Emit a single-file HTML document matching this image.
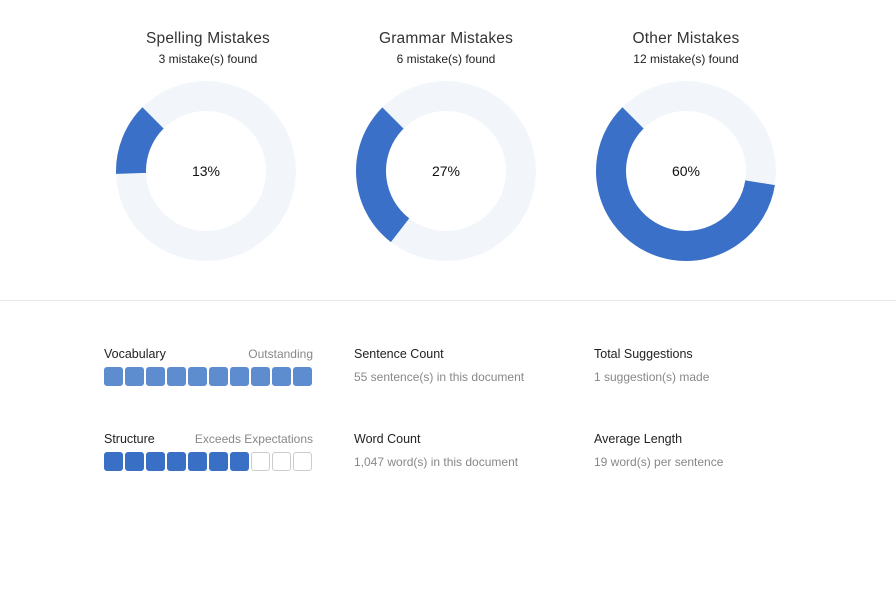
<!DOCTYPE html>
<html><head><meta charset="utf-8"><style>
body{margin:0;width:896px;height:606px;background:#fff;font-family:"Liberation Sans",sans-serif;position:relative;overflow:hidden}
.t{position:absolute;width:240px;text-align:center;color:#333}
.h{font-size:15.5px;top:30px;letter-spacing:0.2px}
.s{font-size:12px;top:52px;color:#222}
.lab{position:absolute;font-size:12.5px;color:#222}
.sub{position:absolute;font-size:12px;color:#888}
.boxes{position:absolute;left:104px;display:flex;gap:2px}
.boxes div{width:17px;height:17px;border:1px solid;border-radius:3px}
</style></head><body>
<div class="t h" style="left:88px">Spelling Mistakes</div>
<div class="t s" style="left:88px">3 mistake(s) found</div>
<div class="t h" style="left:326px">Grammar Mistakes</div>
<div class="t s" style="left:326px">6 mistake(s) found</div>
<div class="t h" style="left:566px">Other Mistakes</div>
<div class="t s" style="left:566px">12 mistake(s) found</div>
<svg width="896" height="300" style="position:absolute;left:0;top:0">
<g fill="none" stroke-width="30">
<circle cx="206" cy="171" r="75" stroke="#f2f6fb"/>
<circle cx="206" cy="171" r="75" stroke="#3a70c7" stroke-dasharray="61.3 500" transform="rotate(178.2 206 171)"/>
<circle cx="446" cy="171" r="75" stroke="#f2f6fb"/>
<circle cx="446" cy="171" r="75" stroke="#3a70c7" stroke-dasharray="127.2 500" transform="rotate(127.8 446 171)"/>
<circle cx="686" cy="171" r="75" stroke="#f2f6fb"/>
<circle cx="686" cy="171" r="75" stroke="#3a70c7" stroke-dasharray="282.7 500" transform="rotate(9 686 171)"/>
</g>
<g font-family="Liberation Sans" font-size="14" text-anchor="middle" fill="#111">
<text x="206" y="176">13%</text><text x="446" y="176">27%</text><text x="686" y="176">60%</text>
</g>
</svg>
<div style="position:absolute;left:0;top:300px;width:896px;height:1px;background:#e8e8e8"></div>

<div class="lab" style="left:104px;top:347px">Vocabulary</div>
<div class="sub" style="left:200px;width:113px;text-align:right;top:347px">Outstanding</div>
<div class="boxes" style="top:367px">
<div style="background:#5d8ccf;border-color:#5d8ccf"></div><div style="background:#5d8ccf;border-color:#5d8ccf"></div><div style="background:#5d8ccf;border-color:#5d8ccf"></div><div style="background:#5d8ccf;border-color:#5d8ccf"></div><div style="background:#5d8ccf;border-color:#5d8ccf"></div><div style="background:#5d8ccf;border-color:#5d8ccf"></div><div style="background:#5d8ccf;border-color:#5d8ccf"></div><div style="background:#5d8ccf;border-color:#5d8ccf"></div><div style="background:#5d8ccf;border-color:#5d8ccf"></div><div style="background:#5d8ccf;border-color:#5d8ccf"></div>
</div>
<div class="lab" style="left:104px;top:432px">Structure</div>
<div class="sub" style="left:150px;width:163px;text-align:right;top:432px">Exceeds Expectations</div>
<div class="boxes" style="top:452px">
<div style="background:#3a6fc6;border-color:#3a6fc6"></div><div style="background:#3a6fc6;border-color:#3a6fc6"></div><div style="background:#3a6fc6;border-color:#3a6fc6"></div><div style="background:#3a6fc6;border-color:#3a6fc6"></div><div style="background:#3a6fc6;border-color:#3a6fc6"></div><div style="background:#3a6fc6;border-color:#3a6fc6"></div><div style="background:#3a6fc6;border-color:#3a6fc6"></div><div style="background:#fff;border-color:#ccc"></div><div style="background:#fff;border-color:#ccc"></div><div style="background:#fff;border-color:#ccc"></div>
</div>

<div class="lab" style="left:354px;top:347px">Sentence Count</div>
<div class="sub" style="left:354px;top:370px">55 sentence(s) in this document</div>
<div class="lab" style="left:354px;top:432px">Word Count</div>
<div class="sub" style="left:354px;top:455px">1,047 word(s) in this document</div>
<div class="lab" style="left:594px;top:347px">Total Suggestions</div>
<div class="sub" style="left:594px;top:370px">1 suggestion(s) made</div>
<div class="lab" style="left:594px;top:432px">Average Length</div>
<div class="sub" style="left:594px;top:455px">19 word(s) per sentence</div>
</body></html>
